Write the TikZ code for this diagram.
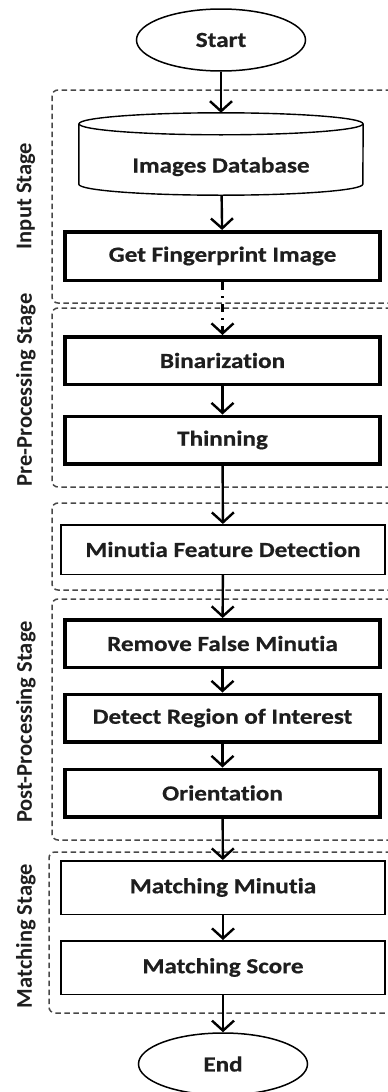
\documentclass[tikz,border=0pt]{standalone}
\usepackage{fontspec}
\setmainfont{Carlito}[Ligatures={NoCommon,NoContextual}]
\newfontfamily\boxfont{Carlito}[FakeStretch=1.17,FakeBold=0.6,Ligatures={NoCommon,NoContextual}]
\usetikzlibrary{arrows.meta,shapes.geometric}
\definecolor{txt}{HTML}{1E1E1E}
\definecolor{dashgray}{HTML}{484848}
\pgfdeclarelayer{back}
\pgfdeclarelayer{mid}
\pgfsetlayers{back,mid,main}

\begin{document}
\begin{tikzpicture}[x=1pt,y=-1pt,
  boxtext/.style={text=txt,font=\boxfont\bfseries\fontsize{21.5}{25}\selectfont},
  thickbox/.style={boxtext,draw,rectangle,fill=white,line width=3.5pt,
    minimum width=315pt,minimum height=47.5pt,inner sep=0pt},
  thinbox/.style={boxtext,draw,rectangle,fill=white,line width=1.5pt,
    minimum width=324pt,minimum height=50pt,inner sep=0pt},
  terminal/.style={boxtext,draw,ellipse,fill=white,line width=1.5pt,
    minimum width=169pt,minimum height=62pt,inner sep=0pt},
  stagebox/.style={draw=dashgray,line width=1.5pt,dash pattern=on 5.5pt off 3.5pt,
    rounded corners=6pt},
  stagelabel/.style={text=txt,rotate=90,
    font=\bfseries\fontsize{22.5}{26}\selectfont},
  flow/.style={line width=2.4pt,
    -{Straight Barb[length=10pt,width=22pt,line width=2.4pt]}},
]
\useasboundingbox (0,0) rectangle (388,1092);
\clip (0,0) rectangle (388,1092);

% stage frames (open to the right)
\begin{pgfonlayer}{back}
\draw[stagebox] (400,90)  -- (52,90)  -- (52,303)  -- (400,303);
\draw[stagebox] (400,308) -- (52,308) -- (52,487)  -- (400,487);
\draw[stagebox] (400,503) -- (52,503) -- (52,590)  -- (400,590);
\draw[stagebox] (400,599) -- (52,599) -- (52,840)  -- (400,840);
\draw[stagebox] (400,852) -- (49,852) -- (49,1013) -- (400,1013);
\end{pgfonlayer}

\node[stagelabel] (lin)   at (26,196) {Input Stage};
\node[stagelabel] (lpre)  at (26,390) {Pre-Processing Stage};
\node[stagelabel] (lpost) at (26,722) {Post-Processing Stage};
\node[stagelabel] (lmat)  at (26,936) {Matching Stage};

% process steps
\node[terminal] (start) at (221,40) {Start};
\node[boxtext,rectangle,inner sep=0pt,minimum width=284pt,minimum height=82pt,
      text height=37pt,text depth=0pt] (db) at (221,154) {Images Database};
\node[thickbox,minimum height=48.5pt] (get) at (222.5,256) {Get Fingerprint Image};
\node[thickbox] (bin)    at (222.5,360.5) {Binarization};
\node[thickbox] (thin)   at (222.5,440)   {Thinning};
\node[thinbox,minimum height=49.5pt] (mfd) at (223,549.5) {Minutia Feature Detection};
\node[thickbox] (rfm)    at (222.5,643.5) {Remove False Minutia};
\node[thickbox] (roi)    at (222.5,718)   {Detect Region of Interest};
\node[thickbox] (orient) at (222.5,793)   {Orientation};
\node[thinbox,minimum height=53.5pt] (mm) at (223,887.5) {Matching Minutia};
\node[thinbox,minimum height=53.5pt] (ms) at (223,967.5) {Matching Score};
\node[terminal] (end) at (223,1064) {End};

% database cylinder
\begin{pgfonlayer}{mid}
\path[fill=white] ([yshift=-11pt]db.north west) -- ([yshift=11pt]db.south west)
  arc[start angle=180,end angle=0,x radius=142,y radius=11]
  -- ([yshift=-11pt]db.north east)
  arc[start angle=0,end angle=-180,x radius=142,y radius=11] -- cycle;
\draw[line width=1.4pt] ([yshift=-11pt]db.north west) -- ([yshift=11pt]db.south west)
  arc[start angle=180,end angle=0,x radius=142,y radius=11]
  -- ([yshift=-11pt]db.north east);
\draw[line width=1.4pt] ([yshift=-11pt]db.north) ellipse[x radius=142,y radius=11];
\end{pgfonlayer}

% connectors
\draw[flow] (start) -- (db);
\draw[flow] (db) -- (get);
\draw[flow,dash pattern=on 8pt off 6pt on 2pt off 6pt] (get) -- (bin);
\draw[flow] (bin) -- (thin);
\draw[flow] (thin) -- (mfd);
\draw[flow] (mfd) -- (rfm);
\draw[flow] (rfm) -- (roi);
\draw[flow] (roi) -- (orient);
\draw[flow] (orient) -- (mm);
\draw[flow] (mm) -- (ms);
\draw[flow] (ms) -- (end);
\end{tikzpicture}
\end{document}
